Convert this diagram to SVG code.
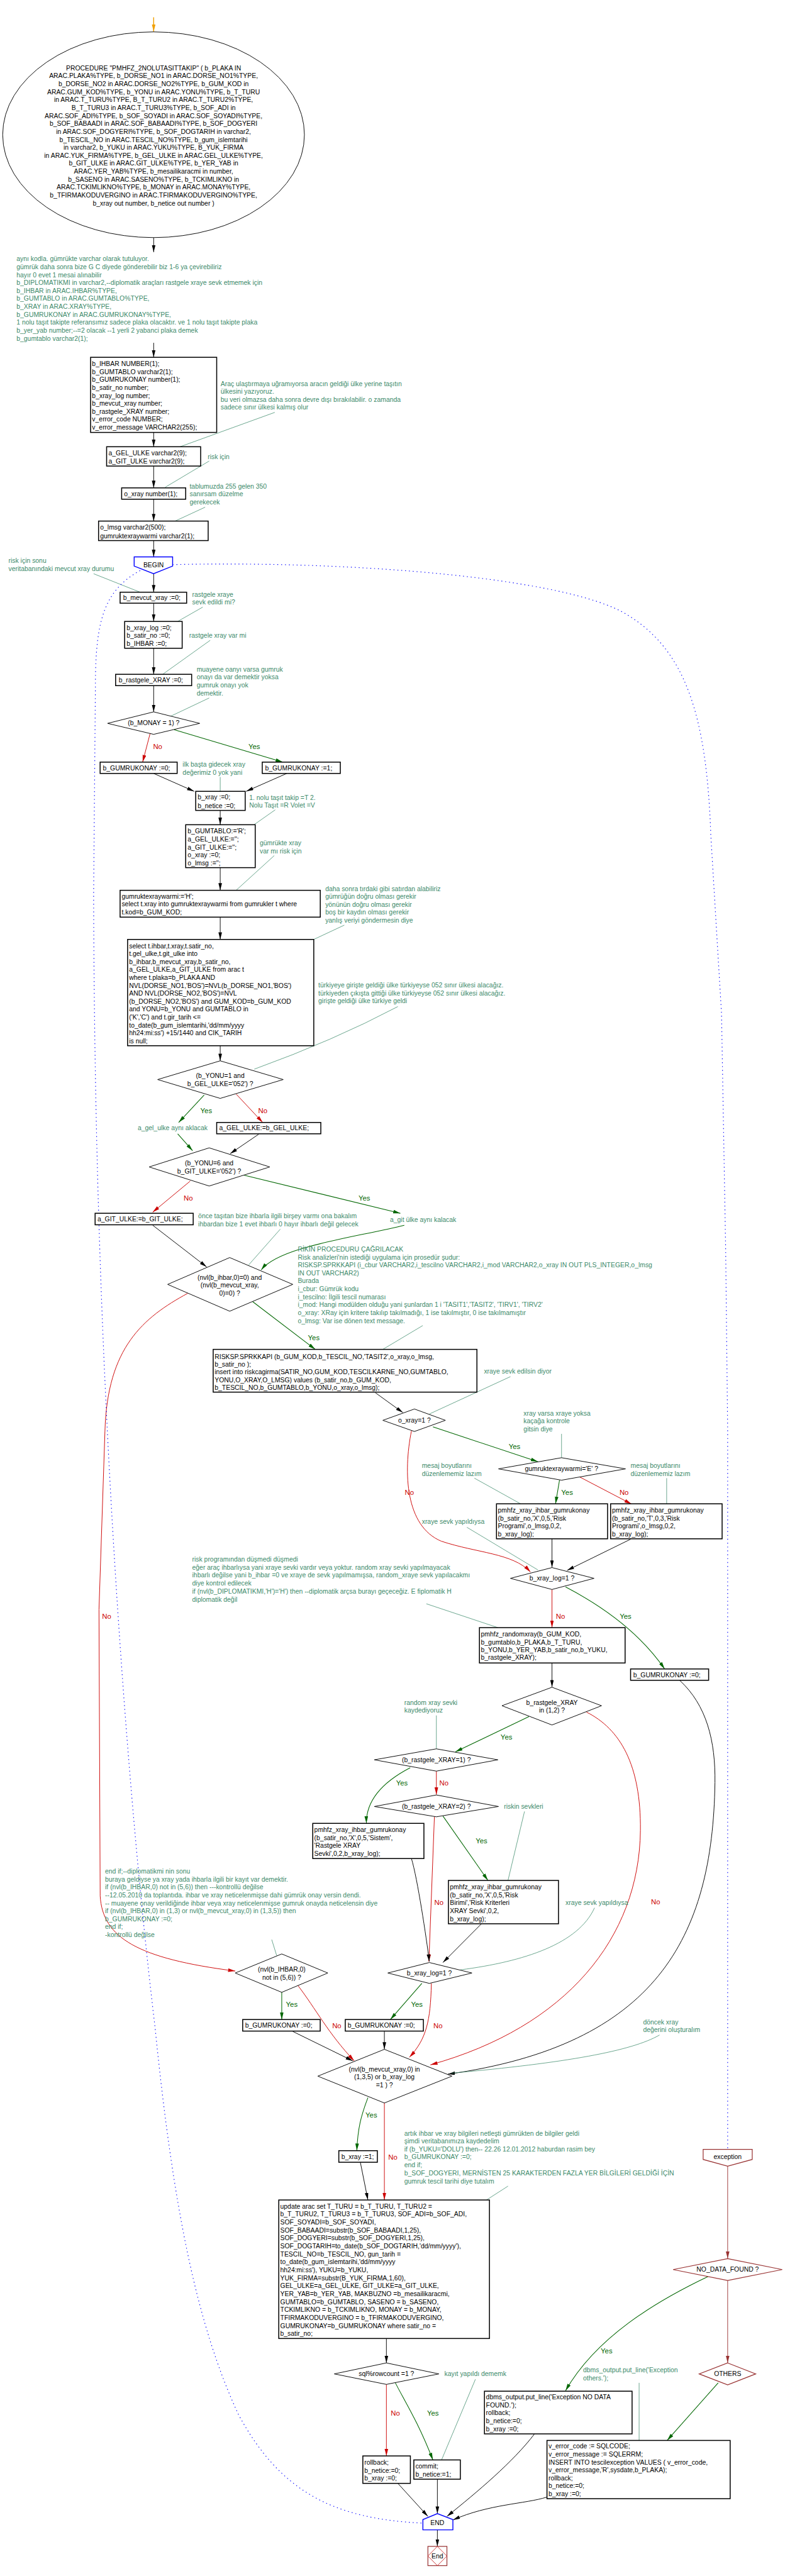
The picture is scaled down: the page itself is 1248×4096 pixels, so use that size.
<svg xmlns="http://www.w3.org/2000/svg" width="1248" height="4096" viewBox="0 0 1248 4096">
<style>
text{font-family:"Liberation Sans",Arial,sans-serif;font-size:11px;fill:#000;dominant-baseline:central}
.c{fill:#3c8a6a}
.m{text-anchor:middle}
.ly{fill:#006600;text-anchor:middle;font-size:12px}
.lr{fill:#cc0000;text-anchor:middle;font-size:12px}
.box{fill:#fff;stroke:#000;stroke-width:1.6}
.dia{fill:#fff;stroke:#000;stroke-width:1}
.ln{fill:none;stroke:#000;stroke-width:1;marker-end:url(#ab)}
.yes{fill:none;stroke:#006600;stroke-width:1.1;marker-end:url(#ag)}
.no{fill:none;stroke:#cc0000;stroke-width:1;marker-end:url(#ar)}
.mrl{fill:none;stroke:#993333;stroke-width:1;marker-end:url(#am)}
.cl{fill:none;stroke:#3c8a6a;stroke-width:0.8}
.bd{fill:none;stroke:#0000ff;stroke-width:1.2;stroke-dasharray:1.5 5}
.mr{fill:#fff;stroke:#993333;stroke-width:1.3}
.bl{fill:#fff;stroke:#0000ff;stroke-width:1.5}
</style>
<defs>
<marker id="ab" markerUnits="userSpaceOnUse" markerWidth="13" markerHeight="7" refX="12" refY="3" orient="auto"><path d="M0,0 L12,3 L0,6 z" fill="#000"/></marker>
<marker id="ag" markerUnits="userSpaceOnUse" markerWidth="13" markerHeight="7" refX="12" refY="3" orient="auto"><path d="M0,0 L12,3 L0,6 z" fill="#006600"/></marker>
<marker id="ar" markerUnits="userSpaceOnUse" markerWidth="13" markerHeight="7" refX="12" refY="3" orient="auto"><path d="M0,0 L12,3 L0,6 z" fill="#cc0000"/></marker>
<marker id="am" markerUnits="userSpaceOnUse" markerWidth="13" markerHeight="7" refX="12" refY="3" orient="auto"><path d="M0,0 L12,3 L0,6 z" fill="#993333"/></marker>
<marker id="ao" markerUnits="userSpaceOnUse" markerWidth="13" markerHeight="7" refX="12" refY="3" orient="auto"><path d="M0,0 L12,3 L0,6 z" fill="#f0a000"/></marker>
</defs>
<g transform="scale(0.948)">
<g id="connectors">
<line x1="257.7" y1="29" x2="257.7" y2="53" stroke="#f0a000" stroke-width="1.5" marker-end="url(#ao)"/>
<path class="ln" d="M257.7,398.5 V423"/>
<path class="ln" d="M257.7,575 V599.3"/>
<path class="cl" d="M460.8,691.7 L302,749.3"/>
<path class="ln" d="M257.7,725.3 V749.3"/>
<path class="cl" d="M350.8,773.3 L277,817.3"/>
<path class="ln" d="M257.7,781.7 V818.3"/>
<path class="cl" d="M344,850.7 L293.7,874"/>
<path class="ln" d="M257.7,837.3 V874"/>
<path class="ln" d="M257.7,906.7 V934"/>
<path class="cl" d="M157,962.3 L235,993.3"/>
<path class="ln" d="M257.7,962.3 V993.3"/>
<path class="cl" d="M340,1018.3 L298,1042.3"/>
<path class="ln" d="M257.7,1011.7 V1042.3"/>
<path class="cl" d="M352.5,1074 L272.8,1131"/>
<path class="ln" d="M257.7,1087.3 V1131"/>
<path class="cl" d="M350.8,1170.7 L285.4,1201.7"/>
<path class="ln" d="M257.7,1150 V1194"/>
<path class="no" d="M251.8,1230 L239.2,1278.3"/>
<path class="yes" d="M292,1224 L474.2,1278.3"/>
<path class="cl" d="M369.3,1303.3 V1327.3"/>
<path class="ln" d="M257.7,1297.3 L325.6,1327.3"/>
<path class="ln" d="M480.9,1297.3 L412.9,1327.3"/>
<path class="cl" d="M461.6,1358.3 L426,1383.3"/>
<path class="ln" d="M369.3,1359.3 V1383.3"/>
<path class="cl" d="M460,1435 L396,1493.3"/>
<path class="ln" d="M369.3,1455.3 V1493.3"/>
<path class="cl" d="M577.4,1551.7 L526.2,1575.7"/>
<path class="ln" d="M369.3,1538.3 V1575.7"/>
<path class="cl" d="M667.2,1688.3 Q560,1745 426.4,1793.3"/>
<path class="ln" d="M369.3,1754 V1779.3"/>
<path class="yes" d="M342.4,1836.7 L299.6,1882.7"/>
<path class="no" d="M396,1835 L440.6,1882.7"/>
<path class="yes" d="M298,1901.7 L323,1930"/>
<path class="ln" d="M434,1902.3 L386,1935"/>
<path class="no" d="M319,1981 L256,2033.3"/>
<path class="yes" d="M408.7,1971 L671.4,2035"/>
<path class="cl" d="M470,2061.7 L417,2121.7"/>
<path class="yes" d="M678,2055 C 600,2075 470,2090 438,2130"/>
<path class="ln" d="M256,2055 L346.6,2125"/>
<path class="yes" d="M423.8,2183.3 L528.7,2263.3"/>
<path class="no" d="M314.7,2169.3 C 240,2210 180,2260 176,2400 L 166,2700 L 168,3180 C 172,3250 230,3285 394.5,3306"/>
<path class="cl" d="M709,2223.3 L642,2263.3"/>
<path class="cl" d="M856,2309 L720,2371.7"/>
<path class="ln" d="M629.5,2336 L675.6,2369.3"/>
<path class="yes" d="M726,2393.3 L902.2,2451.7"/>
<path class="no" d="M690,2400 C 676,2470 680,2560 740,2585 C 800,2605 860,2605 889.6,2636.7"/>
<path class="cl" d="M941.7,2405 V2445"/>
<path class="yes" d="M938.3,2482.7 L931.6,2522.3"/>
<path class="no" d="M971,2476.7 L1059,2522.7"/>
<path class="cl" d="M795.6,2479.3 L873,2522.3"/>
<path class="cl" d="M1118,2479.3 V2522.3"/>
<path class="cl" d="M783,2561.7 L902.2,2633.3"/>
<path class="ln" d="M925.7,2581 V2629.3"/>
<path class="ln" d="M1057.5,2581.7 L951,2634"/>
<path class="cl" d="M715,2690 L835,2730"/>
<path class="no" d="M925.7,2666 V2730"/>
<path class="yes" d="M948.4,2661.7 Q1060,2720 1114.6,2799.3"/>
<path class="ln" d="M925.7,2789.3 V2830"/>
<path class="yes" d="M887,2879.3 L763.7,2938.3"/>
<path class="no" d="M983.6,2871.7 C 1040,2900 1075,2960 1074,3070 C 1072,3250 950,3400 721.8,3463.3"/>
<path class="ln" d="M1139.7,2818.3 C 1185,2860 1200,2920 1199,2990 C 1195,3250 1100,3430 751,3479"/>
<path class="cl" d="M1106,3413.3 C 1060,3440 950,3460 757,3477.3"/>
<path class="cl" d="M731.8,2877.3 V2933.3"/>
<path class="yes" d="M688,2965 C 640,2990 614,3020 614.4,3058.3"/>
<path class="no" d="M731.8,2970.7 V3010"/>
<path class="cl" d="M879.6,3038.3 L851.9,3154"/>
<path class="yes" d="M742.8,3046 L818.3,3154"/>
<path class="no" d="M728.5,3047.3 L719.3,3290"/>
<path class="cl" d="M997,3200 C 970,3260 880,3290 772,3304"/>
<path class="ln" d="M690,3117.3 C 700,3150 715,3250 720,3290"/>
<path class="ln" d="M807.4,3226.7 L742.8,3291.7"/>
<path class="cl" d="M455.7,3253.3 L464,3280"/>
<path class="yes" d="M472.5,3341.7 V3387.3"/>
<path class="no" d="M499.4,3330 C 530,3370 550,3410 594,3456.7"/>
<path class="yes" d="M707.5,3326.7 L654.6,3387.3"/>
<path class="no" d="M723.4,3326.7 C 722,3390 715,3420 686.5,3450.7"/>
<path class="ln" d="M491,3407.3 L591.7,3456.7"/>
<path class="ln" d="M644.6,3407.3 V3437.3"/>
<path class="yes" d="M617,3518.3 C 605,3550 600,3570 598.4,3607.3"/>
<path class="no" d="M644.6,3527.3 V3690"/>
<path class="ln" d="M604.3,3626.7 L617,3690"/>
<path class="cl" d="M852,3666.7 L815.8,3690"/>
<path class="mrl" d="M1220.3,3633.3 V3788.3"/>
<path class="yes" d="M1187.6,3818.3 C 1100,3860 1000,3920 948.4,4010"/>
<path class="mrl" d="M1220.3,3825 V3963.3"/>
<path class="yes" d="M1204.4,3996.7 L1118.8,4093.3"/>
<path class="cl" d="M1071.8,3996.7 V4093.3"/>
<path class="ln" d="M648,3922.3 V3963.3"/>
<path class="cl" d="M797.3,3990.7 L740.2,4126.7"/>
<path class="no" d="M648,3999.3 V4119.3"/>
<path class="yes" d="M663,3996.7 C 680,4030 700,4060 726,4126"/>
<path class="ln" d="M667.2,4165.3 L717.6,4220.7"/>
<path class="ln" d="M733.5,4158.3 V4216"/>
<path class="ln" d="M896.4,4082.3 C 860,4130 800,4180 749.5,4220.7"/>
<path class="ln" d="M917.3,4188.3 C 880,4200 820,4200 759.5,4226.7"/>
<path class="ln" d="M733.5,4243.3 V4271"/>
<path class="bd" d="M235,957 C 175,990 160,1040 160,1150 L 157,1500 C 158,1900 170,2200 180,2400 C 200,2800 230,3150 260,3400 C 290,3700 330,3900 400,4050 C 470,4180 560,4225 709,4232"/>
<path class="bd" d="M289.5,947 C 600,940 950,970 1050,1030 C 1150,1090 1185,1200 1192,1400 L 1210,1700 L 1217,2100 L 1220.3,2400 V3605"/>
<text class="lr" x="264.4" y="1251.7">No</text>
<text class="ly" x="426.4" y="1251.7">Yes</text>
<text class="ly" x="345.8" y="1862.7">Yes</text>
<text class="lr" x="440.6" y="1862.7">No</text>
<text class="lr" x="315.6" y="2010">No</text>
<text class="ly" x="611" y="2010">Yes</text>
<text class="ly" x="526.2" y="2244">Yes</text>
<text class="lr" x="178.8" y="2711">No</text>
<text class="ly" x="862.8" y="2426">Yes</text>
<text class="lr" x="686.5" y="2502.7">No</text>
<text class="ly" x="951" y="2502.7">Yes</text>
<text class="lr" x="1046.6" y="2502.7">No</text>
<text class="lr" x="940" y="2711">No</text>
<text class="ly" x="1049" y="2711">Yes</text>
<text class="ly" x="849.3" y="2914">Yes</text>
<text class="lr" x="1099.5" y="3190">No</text>
<text class="ly" x="674" y="2991">Yes</text>
<text class="lr" x="744.4" y="2991">No</text>
<text class="ly" x="807.4" y="3087.7">Yes</text>
<text class="lr" x="736" y="3191">No</text>
<text class="ly" x="489.3" y="3361.7">Yes</text>
<text class="lr" x="564.8" y="3397.7">No</text>
<text class="ly" x="699" y="3361.7">Yes</text>
<text class="lr" x="734.4" y="3397.7">No</text>
<text class="ly" x="622.7" y="3547.7">Yes</text>
<text class="lr" x="658.8" y="3618.3">No</text>
<text class="ly" x="1017.2" y="3942.7">Yes</text>
<text class="lr" x="663" y="4047.3">No</text>
<text class="ly" x="726" y="4047.3">Yes</text>
</g>
<g id="proc">
<ellipse cx="257.5" cy="226" rx="253" ry="172.5" fill="#fff" stroke="#000" stroke-width="1"/>
<text class="m"><tspan x="257.5" y="113.7">PROCEDURE "PMHFZ_2NOLUTASITTAKIP" ( b_PLAKA IN</tspan><tspan x="257.5" y="127">ARAC.PLAKA%TYPE, b_DORSE_NO1 in ARAC.DORSE_NO1%TYPE,</tspan><tspan x="257.5" y="140.3">b_DORSE_NO2 in ARAC.DORSE_NO2%TYPE, b_GUM_KOD in</tspan><tspan x="257.5" y="153.7">ARAC.GUM_KOD%TYPE,  b_YONU in ARAC.YONU%TYPE,  b_T_TURU</tspan><tspan x="257.5" y="167">in ARAC.T_TURU%TYPE, B_T_TURU2 in ARAC.T_TURU2%TYPE,</tspan><tspan x="257.5" y="180.3">B_T_TURU3 in ARAC.T_TURU3%TYPE, b_SOF_ADI in</tspan><tspan x="257.5" y="193.7">ARAC.SOF_ADI%TYPE, b_SOF_SOYADI in ARAC.SOF_SOYADI%TYPE,</tspan><tspan x="257.5" y="207">b_SOF_BABAADI in ARAC.SOF_BABAADI%TYPE, b_SOF_DOGYERI</tspan><tspan x="257.5" y="220.3">in ARAC.SOF_DOGYERI%TYPE, b_SOF_DOGTARIH in varchar2,</tspan><tspan x="257.5" y="233.7">b_TESCIL_NO in  ARAC.TESCIL_NO%TYPE, b_gum_islemtarihi</tspan><tspan x="257.5" y="247">in varchar2, b_YUKU  in ARAC.YUKU%TYPE, B_YUK_FIRMA</tspan><tspan x="257.5" y="260.3">in ARAC.YUK_FIRMA%TYPE, b_GEL_ULKE in ARAC.GEL_ULKE%TYPE,</tspan><tspan x="257.5" y="273.7">b_GIT_ULKE in ARAC.GIT_ULKE%TYPE, b_YER_YAB  in</tspan><tspan x="257.5" y="287">ARAC.YER_YAB%TYPE, b_mesailikaracmi in number,</tspan><tspan x="257.5" y="300.3">b_SASENO in ARAC.SASENO%TYPE, b_TCKIMLIKNO in</tspan><tspan x="257.5" y="313.7">ARAC.TCKIMLIKNO%TYPE, b_MONAY in ARAC.MONAY%TYPE,</tspan><tspan x="257.5" y="327">b_TFIRMAKODUVERGINO in ARAC.TFIRMAKODUVERGINO%TYPE,</tspan><tspan x="257.5" y="340.3">b_xray out number, b_netice out number )</tspan></text>
</g>
<g id="cmt1">
<text class="c"><tspan x="27.7" y="434">aynı kodla. gümrükte varchar olarak tutuluyor.</tspan><tspan x="27.7" y="447.3">gümrük daha sonra bize G C diyede gönderebilir biz 1-6 ya çevirebiliriz</tspan><tspan x="27.7" y="460.6">hayır 0 evet 1 mesai alınabilir</tspan><tspan x="27.7" y="473.9">b_DIPLOMATIKMI in varchar2,--diplomatik araçları rastgele xraye sevk etmemek için</tspan><tspan x="27.7" y="487.2">b_IHBAR in ARAC.IHBAR%TYPE,</tspan><tspan x="27.7" y="500.5">b_GUMTABLO in ARAC.GUMTABLO%TYPE,</tspan><tspan x="27.7" y="513.8">b_XRAY in ARAC.XRAY%TYPE,</tspan><tspan x="27.7" y="527.1">b_GUMRUKONAY in ARAC.GUMRUKONAY%TYPE,</tspan><tspan x="27.7" y="540.4">1 nolu taşıt takipte referansımız sadece plaka olacaktır. ve 1 nolu taşıt takipte plaka</tspan><tspan x="27.7" y="553.9">b_yer_yab number;--=2 olacak --1 yerli 2 yabanci plaka demek</tspan><tspan x="27.7" y="567.3">b_gumtablo varchar2(1);</tspan></text>
</g>
<g id="decl1">
<rect class="box" x="151.9" y="599.3" width="211.5" height="126"/>
<text><tspan x="154.4" y="610">b_IHBAR NUMBER(1);</tspan><tspan x="154.4" y="623.3">b_GUMTABLO varchar2(1);</tspan><tspan x="154.4" y="636.5">b_GUMRUKONAY number(1);</tspan><tspan x="154.4" y="649.8">b_satir_no  number;</tspan><tspan x="154.4" y="663">b_xray_log number;</tspan><tspan x="154.4" y="676.3">b_mevcut_xray number;</tspan><tspan x="154.4" y="689.6">b_rastgele_XRAY number;</tspan><tspan x="154.4" y="702.9">v_error_code NUMBER;</tspan><tspan x="154.4" y="716.2">v_error_message VARCHAR2(255);</tspan></text>
</g>
<g id="cmt2"><text class="c"><tspan x="370" y="643">Araç ulaştırmaya uğramıyorsa aracın geldiği ülke yerine taşıtın</tspan><tspan x="370" y="656.3">ülkesini yazıyoruz.</tspan><tspan x="370" y="669.7">bu veri olmazsa daha sonra devre dışı bırakılabilir. o zamanda</tspan><tspan x="370" y="683">sadece sınır ülkesi kalmış olur</tspan></text></g>
<g id="decl2"><rect class="box" x="178.8" y="749.3" width="157.7" height="32.4"/><text><tspan x="182" y="759.3">a_GEL_ULKE varchar2(9);</tspan><tspan x="182" y="772.7">a_GIT_ULKE varchar2(9);</tspan></text></g>
<g id="cmt3"><text class="c" x="348.3" y="766">risk için</text></g>
<g id="decl3"><rect class="box" x="204" y="818.3" width="107.4" height="19"/><text x="208" y="828.3">o_xray number(1);</text></g>
<g id="cmt4"><text class="c"><tspan x="318" y="815">tablumuzda 255 gelen 350</tspan><tspan x="318" y="828.3">sanırsam düzelme</tspan><tspan x="318" y="842">gerekecek</tspan></text></g>
<g id="decl4"><rect class="box" x="165.3" y="874" width="183.8" height="32.7"/><text><tspan x="168" y="884">o_lmsg  varchar2(500);</tspan><tspan x="168" y="898.7">gumruktexraywarmi varchar2(1);</tspan></text></g>
<g id="begin"><path class="bl" d="M225,934 H289.5 V949.5 L257.5,962.3 L225,949.5 Z"/><text class="m" x="257.5" y="947.3">BEGIN</text></g>
<g id="cmt5"><text class="c"><tspan x="14.3" y="940.3">risk için sonu</tspan><tspan x="14.3" y="954">veritabanındaki mevcut xray durumu</tspan></text></g>
<g id="s1"><rect class="box" x="201.4" y="993.3" width="111.6" height="18.4"/><text x="206.5" y="1003">b_mevcut_xray :=0;</text></g>
<g id="cmt6"><text class="c"><tspan x="322.3" y="996.7">rastgele xraye</tspan><tspan x="322.3" y="1010">sevk edildi mi?</tspan></text></g>
<g id="s2"><rect class="box" x="209" y="1042.3" width="96.5" height="45"/><text><tspan x="212.3" y="1052.3">b_xray_log :=0;</tspan><tspan x="212.3" y="1065.7">b_satir_no :=0;</tspan><tspan x="212.3" y="1079.1">b_IHBAR :=0;</tspan></text></g>
<g id="cmt7"><text class="c" x="317.2" y="1065.7">rastgele xray var mi</text></g>
<g id="s3"><rect class="box" x="193.9" y="1131" width="127.5" height="19"/><text x="199" y="1141">b_rastgele_XRAY :=0;</text></g>
<g id="cmt8"><text class="c"><tspan x="329.8" y="1122">muayene oanyı varsa gumruk</tspan><tspan x="329.8" y="1135.3">onayı da var demektir yoksa</tspan><tspan x="329.8" y="1148.7">gumruk onayı yok</tspan><tspan x="329.8" y="1162.3">demektir.</tspan></text></g>
<g id="d1"><polygon class="dia" points="257.7,1194 334.9,1213.3 257.7,1231.7 180.4,1213.3"/><text class="m" x="257.7" y="1213">(b_MONAY = 1) ?</text></g>
<g id="s4"><rect class="box" x="167.9" y="1278.3" width="129.2" height="19"/><text x="172.5" y="1288">b_GUMRUKONAY :=0;</text></g>
<g id="s5"><rect class="box" x="439.8" y="1278.3" width="130.9" height="19"/><text x="444.5" y="1288">b_GUMRUKONAY :=1;</text></g>
<g id="cmt9"><text class="c"><tspan x="306.3" y="1282">ilk başta gidecek xray</tspan><tspan x="306.3" y="1295.3">değerimiz 0 yok yani</tspan></text></g>
<g id="s6"><rect class="box" x="328.2" y="1327.3" width="83" height="32"/><text><tspan x="331.5" y="1336.7">b_xray :=0;</tspan><tspan x="331.5" y="1351">b_netice :=0;</tspan></text></g>
<g id="cmt10"><text class="c"><tspan x="418" y="1337.3">1. nolu taşıt takip =T 2.</tspan><tspan x="418" y="1350.7">Nolu Taşıt =R Volet =V</tspan></text></g>
<g id="s7"><rect class="box" x="311.4" y="1383.3" width="116.6" height="72"/><text><tspan x="314.7" y="1393.5">b_GUMTABLO:='R';</tspan><tspan x="314.7" y="1407">a_GEL_ULKE:='';</tspan><tspan x="314.7" y="1420.5">a_GIT_ULKE:='';</tspan><tspan x="314.7" y="1434">o_xray :=0;</tspan><tspan x="314.7" y="1447.5">o_lmsg  :='';</tspan></text></g>
<g id="cmt11"><text class="c"><tspan x="435.6" y="1414">gümrükte xray</tspan><tspan x="435.6" y="1427">var mı risk için</tspan></text></g>
<g id="s8"><rect class="box" x="201.4" y="1493.3" width="335.7" height="45"/><text><tspan x="204" y="1503.3">gumruktexraywarmi:='H';</tspan><tspan x="204" y="1516.3">select t.xray into gumruktexraywarmi from gumrukler t where</tspan><tspan x="204" y="1529.5">t.kod=b_GUM_KOD;</tspan></text></g>
<g id="cmt12"><text class="c"><tspan x="545.5" y="1490">daha sonra tırdaki gibi satırdan alabiliriz</tspan><tspan x="545.5" y="1503.3">gümrüğün doğru olması gerekir</tspan><tspan x="545.5" y="1516.6">yönünün doğru olması gerekir</tspan><tspan x="545.5" y="1530">boş bir kaydın olması gerekir</tspan><tspan x="545.5" y="1543.3">yanlış veriyi göndermesin diye</tspan></text></g>
<g id="s9"><rect class="box" x="214" y="1575.7" width="312.2" height="178.3"/><text><tspan x="216.5" y="1586">select t.ihbar,t.xray,t.satir_no,</tspan><tspan x="216.5" y="1599.3">t.gel_ulke,t.git_ulke into</tspan><tspan x="216.5" y="1612.7">b_ihbar,b_mevcut_xray,b_satir_no,</tspan><tspan x="216.5" y="1626">a_GEL_ULKE,a_GIT_ULKE from arac  t</tspan><tspan x="216.5" y="1639.3">where  t.plaka=b_PLAKA AND</tspan><tspan x="216.5" y="1652.6">NVL(DORSE_NO1,'BOS')=NVL(b_DORSE_NO1,'BOS')</tspan><tspan x="216.5" y="1665.9">AND  NVL(DORSE_NO2,'BOS')=NVL</tspan><tspan x="216.5" y="1679.2">(b_DORSE_NO2,'BOS') and  GUM_KOD=b_GUM_KOD</tspan><tspan x="216.5" y="1692.5">and  YONU=b_YONU and  GUMTABLO in</tspan><tspan x="216.5" y="1705.8">('K','C') and t.gir_tarih &lt;=</tspan><tspan x="216.5" y="1719.1">to_date(b_gum_islemtarihi,'dd/mm/yyyy</tspan><tspan x="216.5" y="1732.4">hh24:mi:ss') +15/1440  and  CIK_TARIH</tspan><tspan x="216.5" y="1745.7">is null;</tspan></text></g>
<g id="cmt13"><text class="c"><tspan x="533.8" y="1652">türkiyeye girişte geldiği ülke türkiyeyse 052 sınır ülkesi alacağız.</tspan><tspan x="533.8" y="1665.3">türkiyeden çıkışta gittiği ülke türkiyeyse 052 sınır ülkesi alacağız.</tspan><tspan x="533.8" y="1678.7">girişte geldiği ülke türkiye geldi</tspan></text></g>
<g id="d2"><polygon class="dia" points="369.3,1779.3 475,1810.7 369.3,1842.3 264.4,1810.7"/><text class="m"><tspan x="369.3" y="1804">(b_YONU=1 and</tspan><tspan x="369.3" y="1818">b_GEL_ULKE='052') ?</tspan></text></g>
<g id="cmt14"><text class="c m" x="289.5" y="1892">a_gel_ulke aynı aklacak</text></g>
<g id="s10"><rect class="box" x="363.4" y="1882.7" width="174.6" height="19"/><text x="367.6" y="1892.2">a_GEL_ULKE:=b_GEL_ULKE;</text></g>
<g id="d3"><polygon class="dia" points="350.8,1925.3 452.4,1957.3 350.8,1989.3 250.1,1957.3"/><text class="m"><tspan x="350.8" y="1950.7">(b_YONU=6 and</tspan><tspan x="350.8" y="1964">b_GIT_ULKE='052') ?</tspan></text></g>
<g id="s11"><rect class="box" x="159.5" y="2035" width="164.5" height="19.3"/><text x="163.5" y="2045">a_GIT_ULKE:=b_GIT_ULKE;</text></g>
<g id="cmt15"><text class="c"><tspan x="332.4" y="2039.3">önce taşıtan bize ihbarla ilgili birşey varmı ona bakalım</tspan><tspan x="332.4" y="2052.7">ihbardan bize 1 evet ihbarlı 0 hayır ihbarlı değil gelecek</tspan></text></g>
<g id="cmt16"><text class="c" x="654" y="2046">a_git ülke aynı kalacak</text></g>
<g id="d4"><polygon class="dia" points="385.2,2109.3 491,2154.3 385.2,2199.3 281.2,2154.3"/><text class="m"><tspan x="385.2" y="2142">(nvl(b_ihbar,0)=0) and</tspan><tspan x="385.2" y="2155.3">(nvl(b_mevcut_xray,</tspan><tspan x="385.2" y="2168.6">0)=0) ?</tspan></text></g>
<g id="cmt17"><text class="c"><tspan x="499.4" y="2095">RİKİN PROCEDURU ÇAĞRILACAK</tspan><tspan x="499.4" y="2108.3">Risk analizleri'nin istediği uygulama için prosedür şudur:</tspan><tspan x="499.4" y="2121.6">RISKSP.SPRKKAPI (i_cbur VARCHAR2,i_tescilno VARCHAR2,i_mod VARCHAR2,o_xray IN OUT PLS_INTEGER,o_lmsg</tspan><tspan x="499.4" y="2134.9">IN OUT VARCHAR2)</tspan><tspan x="499.4" y="2148.2">Burada</tspan><tspan x="499.4" y="2161.5">i_cbur: Gümrük kodu</tspan><tspan x="499.4" y="2174.8">i_tescilno: İlgili tescil numarası</tspan><tspan x="499.4" y="2188.1">i_mod: Hangi modülden olduğu yani şunlardan 1 i 'TASIT1','TASIT2', 'TIRV1', 'TIRV2'</tspan><tspan x="499.4" y="2201.4">o_xray: XRay için kritere takılıp takılmadığı, 1 ise takılmıştır, 0 ise takılmamıştır</tspan><tspan x="499.4" y="2214.7">o_lmsg: Var ise dönen text message.</tspan></text></g>
<g id="s12"><rect class="box" x="357.5" y="2263.3" width="442.3" height="71.7"/><text><tspan x="360" y="2275">RISKSP.SPRKKAPI (b_GUM_KOD,b_TESCIL_NO,'TASIT2',o_xray,o_lmsg,</tspan><tspan x="360" y="2288">b_satir_no );</tspan><tspan x="360" y="2301">insert into riskcagirma(SATIR_NO,GUM_KOD,TESCILKARNE_NO,GUMTABLO,</tspan><tspan x="360" y="2314">YONU,O_XRAY,O_LMSG) values (b_satir_no,b_GUM_KOD,</tspan><tspan x="360" y="2327">b_TESCIL_NO,b_GUMTABLO,b_YONU,o_xray,o_lmsg);</tspan></text></g>
<g id="cmt18"><text class="c" x="811.6" y="2300">xraye sevk edilsin diyor</text></g>
<g id="d5"><polygon class="dia" points="695,2363.3 747,2382.3 695,2401 642,2382.3"/><text class="m" x="695" y="2382.3">o_xray=1 ?</text></g>
<g id="cmt19"><text class="c"><tspan x="878" y="2370">xray varsa xraye yoksa</tspan><tspan x="878" y="2383.3">kaçağa kontrole</tspan><tspan x="878" y="2396.6">gitsin diye</tspan></text></g>
<g id="d6"><polygon class="dia" points="941.7,2445 1049,2463.7 941.7,2482.7 836,2463.7"/><text class="m" x="941.7" y="2463.7">gumruktexraywarmi='E' ?</text></g>
<g id="cmt20"><text class="c"><tspan x="707.5" y="2458.3">mesaj boyutlarını</tspan><tspan x="707.5" y="2471.5">düzenlememiz lazım</tspan></text></g>
<g id="cmt21"><text class="c"><tspan x="1057.5" y="2458.3">mesaj boyutlarını</tspan><tspan x="1057.5" y="2471.5">düzenlememiz lazım</tspan></text></g>
<g id="s13"><rect class="box" x="832.6" y="2522.3" width="186.3" height="58.7"/><text><tspan x="835" y="2532.5">pmhfz_xray_ihbar_gumrukonay</tspan><tspan x="835" y="2546">(b_satir_no,'X',0,5,'Risk</tspan><tspan x="835" y="2559.3">Programi',o_lmsg,0,2,</tspan><tspan x="835" y="2572.6">b_xray_log);</tspan></text></g>
<g id="s14"><rect class="box" x="1024" y="2522.3" width="187" height="58.7"/><text><tspan x="1026.4" y="2532.5">pmhfz_xray_ihbar_gumrukonay</tspan><tspan x="1026.4" y="2546">(b_satir_no,'T',0,3,'Risk</tspan><tspan x="1026.4" y="2559.3">Programi',o_lmsg,0,2,</tspan><tspan x="1026.4" y="2572.6">b_xray_log);</tspan></text></g>
<g id="cmt22"><text class="c" x="707.5" y="2552.3">xraye sevk yapıldıysa</text></g>
<g id="d7"><polygon class="dia" points="925.7,2629.3 996.2,2647.3 925.7,2666 856,2647.3"/><text class="m" x="925.7" y="2647.3">b_xray_log=1 ?</text></g>
<g id="cmt23"><text class="c"><tspan x="322.3" y="2615">risk programından düşmedi düşmedi</tspan><tspan x="322.3" y="2628.3">eğer araç ihbarlıysa yani  xraye sevki vardır veya yoktur. random xray sevki yapılmayacak</tspan><tspan x="322.3" y="2641.7">ihbarlı değilse yani b_ihbar =0 ve xraye de sevk yapılmamışsa, random_xraye sevk yapılacakmı</tspan><tspan x="322.3" y="2655">diye kontrol edilecek</tspan><tspan x="322.3" y="2668.3">if (nvl(b_DIPLOMATIKMI,'H')='H') then --diplomatik arçsa burayı geçeceğiz. E fiplomatik H</tspan><tspan x="322.3" y="2682">diplomatik değil</tspan></text></g>
<g id="s15"><rect class="box" x="804" y="2730" width="244.3" height="59.3"/><text><tspan x="806.5" y="2740.5">pmhfz_randomxray(b_GUM_KOD,</tspan><tspan x="806.5" y="2754">b_gumtablo,b_PLAKA,b_T_TURU,</tspan><tspan x="806.5" y="2767">b_YONU,b_YER_YAB,b_satir_no,b_YUKU,</tspan><tspan x="806.5" y="2780">b_rastgele_XRAY);</tspan></text></g>
<g id="s16"><rect class="box" x="1057.5" y="2799.3" width="130.9" height="19"/><text x="1062" y="2809.5">b_GUMRUKONAY :=0;</text></g>
<g id="d8"><polygon class="dia" points="925.7,2830 1008.8,2861 925.7,2893.3 841.8,2861"/><text class="m"><tspan x="925.7" y="2855">b_rastgele_XRAY</tspan><tspan x="925.7" y="2868.3">in (1,2) ?</tspan></text></g>
<g id="cmt24"><text class="c"><tspan x="678" y="2855">random xray sevki</tspan><tspan x="678" y="2868.3">kaydediyoruz</tspan></text></g>
<g id="d9"><polygon class="dia" points="731.8,2933.3 835,2951.7 731.8,2970.7 627.8,2951.7"/><text class="m" x="731.8" y="2951.7">(b_rastgele_XRAY=1) ?</text></g>
<g id="d10"><polygon class="dia" points="731.8,3010.7 836,3030 731.8,3047.3 627.8,3030"/><text class="m" x="731.8" y="3030">(b_rastgele_XRAY=2) ?</text></g>
<g id="cmt25"><text class="c" x="845.2" y="3030">riskin sevkleri</text></g>
<g id="s17"><rect class="box" x="524.5" y="3058.3" width="186.4" height="59"/><text><tspan x="527" y="3068.5">pmhfz_xray_ihbar_gumrukonay</tspan><tspan x="527" y="3082">(b_satir_no,'X',0,5,'Sistem',</tspan><tspan x="527" y="3095.4">'Rastgele XRAY</tspan><tspan x="527" y="3108.6">Sevki',0,2,b_xray_log);</tspan></text></g>
<g id="s18"><rect class="box" x="752" y="3154" width="184.6" height="72.7"/><text><tspan x="754.5" y="3164.3">pmhfz_xray_ihbar_gumrukonay</tspan><tspan x="754.5" y="3177.8">(b_satir_no,'X',0,5,'Risk</tspan><tspan x="754.5" y="3191.2">Birimi','Risk Kriterleri</tspan><tspan x="754.5" y="3204.6">XRAY Sevki',0,2,</tspan><tspan x="754.5" y="3218">b_xray_log);</tspan></text></g>
<g id="cmt26"><text class="c" x="948.4" y="3191">xraye sevk yapıldıysa</text></g>
<g id="cmt27"><text class="c"><tspan x="176.2" y="3138.3">end if;--diplomatikmi nin sonu</tspan><tspan x="176.2" y="3151.6">buraya geldiyse ya xray yada ihbarla ilgili bir kayıt var demektir.</tspan><tspan x="176.2" y="3164.9">if (nvl(b_IHBAR,0) not in (5,6)) then ---kontrollü değilse</tspan><tspan x="176.2" y="3178.2">--12.05.2010 da toplantıda. ihbar ve xray neticelenmişse dahi gümrük onay versin dendi.</tspan><tspan x="176.2" y="3191.5">-- muayene onay verildiğinde ihbar veya xray neticelenmişse gumruk onayda neticelensin diye</tspan><tspan x="176.2" y="3204.8">if (nvl(b_IHBAR,0) in (1,3) or nvl(b_mevcut_xray,0) in (1,3,5)) then</tspan><tspan x="176.2" y="3218.1">b_GUMRUKONAY :=0;</tspan><tspan x="176.2" y="3231.4">end if;</tspan><tspan x="176.2" y="3244.7">-kontrollü değilse</tspan></text></g>
<g id="d11"><polygon class="dia" points="472.5,3277.3 549.7,3309.3 472.5,3341.7 394.5,3309.3"/><text class="m"><tspan x="472.5" y="3302.7">(nvl(b_IHBAR,0)</tspan><tspan x="472.5" y="3316">not in (5,6)) ?</tspan></text></g>
<g id="d12"><polygon class="dia" points="720,3291.7 791.4,3309.3 720,3326.7 650.4,3309.3"/><text class="m" x="720" y="3309.3">b_xray_log=1 ?</text></g>
<g id="s19"><rect class="box" x="407" y="3387.3" width="130" height="19.4"/><text x="411" y="3397.5">b_GUMRUKONAY :=0;</text></g>
<g id="s20"><rect class="box" x="579" y="3387.3" width="131" height="19.4"/><text x="583" y="3397.5">b_GUMRUKONAY :=0;</text></g>
<g id="cmt28"><text class="c"><tspan x="1078.5" y="3391">döncek xray</tspan><tspan x="1078.5" y="3404.3">değerini oluşturalım</tspan></text></g>
<g id="d13"><polygon class="dia" points="644.6,3437.3 757.9,3482.3 644.6,3527.3 533,3482.3"/><text class="m"><tspan x="644.6" y="3470">(nvl(b_mevcut_xray,0) in</tspan><tspan x="644.6" y="3483.3">(1,3,5) or b_xray_log</tspan><tspan x="644.6" y="3496.6">=1 ) ?</tspan></text></g>
<g id="s21"><rect class="box" x="568.2" y="3607.3" width="64.6" height="19.4"/><text x="572.4" y="3617.5">b_xray :=1;</text></g>
<g id="cmt29"><text class="c"><tspan x="678" y="3577.7">artık ihbar ve xray bilgileri netleşti gümrükten de bilgiler geldi</tspan><tspan x="678" y="3591">şimdi veritabanımıza kaydedelim</tspan><tspan x="678" y="3604.3">if (b_YUKU='DOLU') then-- 22.26 12.01.2012 haburdan rasim bey</tspan><tspan x="678" y="3617.6">b_GUMRUKONAY :=0;</tspan><tspan x="678" y="3630.9">end if;</tspan><tspan x="678" y="3644.2">b_SOF_DOGYERI, MERNİSTEN 25 KARAKTERDEN FAZLA YER BİLGİLERİ GELDİĞİ İÇİN</tspan><tspan x="678" y="3658">gumruk tescil tarihi diye tutalım</tspan></text></g>
<g id="s22"><rect class="box" x="467.5" y="3690" width="353.3" height="232.3"/><text><tspan x="470" y="3700">update arac set T_TURU = b_T_TURU, T_TURU2 =</tspan><tspan x="470" y="3713.4">b_T_TURU2, T_TURU3 = b_T_TURU3, SOF_ADI=b_SOF_ADI,</tspan><tspan x="470" y="3726.8">SOF_SOYADI=b_SOF_SOYADI,</tspan><tspan x="470" y="3740.1">SOF_BABAADI=substr(b_SOF_BABAADI,1,25),</tspan><tspan x="470" y="3753.5">SOF_DOGYERI=substr(b_SOF_DOGYERI,1,25),</tspan><tspan x="470" y="3766.9">SOF_DOGTARIH=to_date(b_SOF_DOGTARIH,'dd/mm/yyyy'),</tspan><tspan x="470" y="3780.3">TESCIL_NO=b_TESCIL_NO, gun_tarih =</tspan><tspan x="470" y="3793.6">to_date(b_gum_islemtarihi,'dd/mm/yyyy</tspan><tspan x="470" y="3807">hh24:mi:ss'),  YUKU=b_YUKU,</tspan><tspan x="470" y="3820.4">YUK_FIRMA=substr(B_YUK_FIRMA,1,60),</tspan><tspan x="470" y="3833.8">GEL_ULKE=a_GEL_ULKE, GIT_ULKE=a_GIT_ULKE,</tspan><tspan x="470" y="3847.1">YER_YAB=b_YER_YAB, MAKBUZNO =b_mesailikaracmi,</tspan><tspan x="470" y="3860.5">GUMTABLO=b_GUMTABLO, SASENO = b_SASENO,</tspan><tspan x="470" y="3873.9">TCKIMLIKNO = b_TCKIMLIKNO, MONAY = b_MONAY,</tspan><tspan x="470" y="3887.3">TFIRMAKODUVERGINO = b_TFIRMAKODUVERGINO,</tspan><tspan x="470" y="3900.6">GUMRUKONAY=b_GUMRUKONAY where  satir_no =</tspan><tspan x="470" y="3914">b_satir_no;</tspan></text></g>
<g id="exc"><path class="mr" d="M1179.2,3605 H1261.5 V3622 L1220.3,3633.3 L1179.2,3622 Z"/><text class="m" x="1220.3" y="3617.5">exception</text></g>
<g id="ndf"><polygon class="mr" points="1220.3,3788.3 1311.8,3806.7 1220.3,3825 1128.8,3806.7"/><text class="m" x="1220.3" y="3806.7">NO_DATA_FOUND ?</text></g>
<g id="oth"><polygon class="mr" points="1220.3,3963.3 1267.3,3981.7 1220.3,4000 1172.5,3981.7"/><text class="m" x="1220.3" y="3981.7">OTHERS</text></g>
<g id="cmt30"><text class="c"><tspan x="977.8" y="3975">dbms_output.put_line('Exception</tspan><tspan x="977.8" y="3988.3">others.');</tspan></text></g>
<g id="s23"><rect class="box" x="812.4" y="4010.7" width="247.6" height="71.6"/><text><tspan x="815" y="4020.3">dbms_output.put_line('Exception NO DATA</tspan><tspan x="815" y="4033.6">FOUND.');</tspan><tspan x="815" y="4046.9">rollback;</tspan><tspan x="815" y="4060.2">b_netice:=0;</tspan><tspan x="815" y="4073.5">b_xray :=0;</tspan></text></g>
<g id="s24"><rect class="box" x="917.3" y="4093.3" width="307.2" height="97.7"/><text><tspan x="919.8" y="4102.7">v_error_code := SQLCODE;</tspan><tspan x="919.8" y="4116">v_error_message := SQLERRM;</tspan><tspan x="919.8" y="4129.3">INSERT INTO tescilexception VALUES ( v_error_code,</tspan><tspan x="919.8" y="4142.6">v_error_message,'R',sysdate,b_PLAKA);</tspan><tspan x="919.8" y="4155.9">rollback;</tspan><tspan x="919.8" y="4169.2">b_netice:=0;</tspan><tspan x="919.8" y="4182.5">b_xray :=0;</tspan></text></g>
<g id="d14"><polygon class="dia" points="648,3963.3 736,3981.7 648,3999.3 560.6,3981.7"/><text class="m" x="648" y="3981.5">sql%rowcount =1 ?</text></g>
<g id="cmt31"><text class="c" x="745.3" y="3981.7">kayıt yapıldı dememk</text></g>
<g id="s25"><rect class="box" x="608.5" y="4119.3" width="79.7" height="46"/><text><tspan x="611" y="4130">rollback;</tspan><tspan x="611" y="4143.3">b_netice:=0;</tspan><tspan x="611" y="4156.3">b_xray :=0;</tspan></text></g>
<g id="s26"><rect class="box" x="694" y="4126" width="78" height="32.3"/><text><tspan x="696.6" y="4136">commit;</tspan><tspan x="696.6" y="4150">b_netice:=1;</tspan></text></g>
<g id="endblk"><path class="bl" d="M709.2,4243.3 V4226 L733.5,4216 L759.5,4226 V4243.3 Z"/><text class="m" x="733.5" y="4232">END</text></g>
<g id="end"><rect class="mr" x="717.6" y="4271" width="31.9" height="32.3"/><polygon points="733.5,4271 749.5,4287.2 733.5,4303.3 717.6,4287.2" fill="none" stroke="#cc3333" stroke-width="1"/><text class="m" x="733.5" y="4287.5">End</text></g>
</g>
</svg>
